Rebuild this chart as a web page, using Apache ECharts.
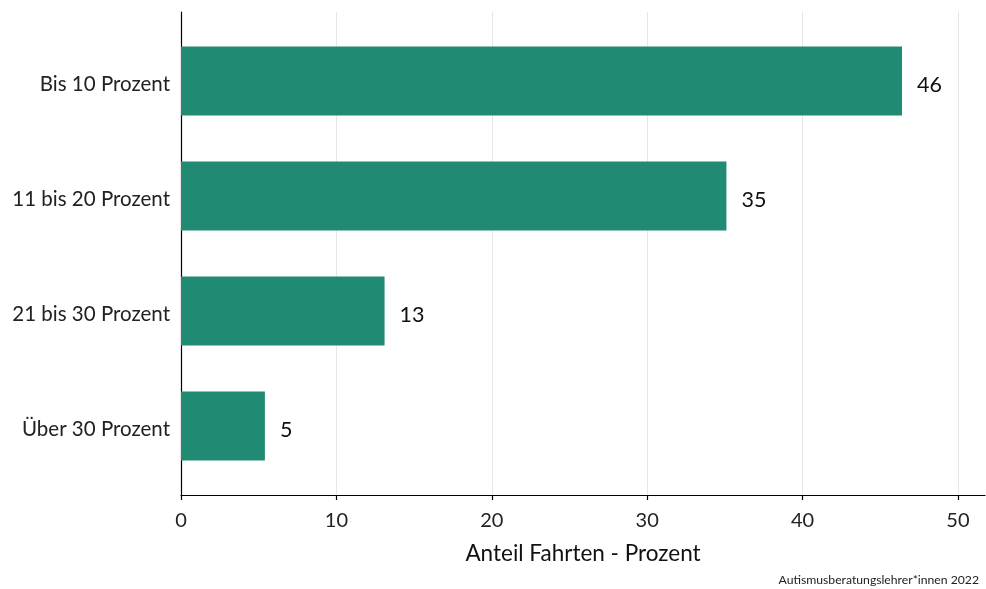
<!DOCTYPE html>
<html><head><meta charset="utf-8">
<script src="https://cdn.jsdelivr.net/npm/echarts@6/dist/echarts.min.js"></script>
<style>html,body{margin:0;padding:0;background:#fff}#c{width:986px;height:589px}</style>
</head><body><div id="c"></div>
<script>
const categories = ['Bis 10 Prozent', '11 bis 20 Prozent', '21 bis 30 Prozent', 'Über 30 Prozent'];
const values = [46.4, 35.1, 13.1, 5.4];
const valueLabels = ['46', '35', '13', '5'];
const xTicks = [0, 10, 20, 30, 40, 50];

const FONT = 'Lato';
const chart = echarts.init(document.getElementById('c'), null, {renderer: 'canvas'});
const data = values.map((v, i) => [v, i, valueLabels[i]]);
chart.setOption({
  backgroundColor: '#fff',
  animation: false,
  grid: {left: 181, right: 1, top: 12, bottom: 94, containLabel: false},
  xAxis: {
    type: 'value', min: 0, max: 51.74, interval: 10,
    axisLine: {show: true, onZero: false, lineStyle: {color: '#000', width: 1.2}},
    axisTick: {show: true, length: 5, lineStyle: {color: '#000', width: 1.2}, customValues: xTicks},
    axisLabel: {fontFamily: FONT, fontSize: 20, color: '#222', margin: 16, customValues: xTicks},
    splitLine: {show: true, lineStyle: {color: '#e6e6e6', width: 1}},
    name: 'Anteil Fahrten - Prozent', nameLocation: 'middle', nameGap: 47,
    nameTextStyle: {fontFamily: FONT, fontSize: 22.5, color: '#111'}
  },
  yAxis: {
    type: 'value', inverse: true, min: -0.6, max: 3.6,
    axisLine: {show: true, onZero: false, lineStyle: {color: '#000', width: 1.2}},
    axisTick: {show: false},
    splitLine: {show: false},
    axisLabel: {
      fontFamily: FONT, fontSize: 20.5, color: '#222', margin: 11,
      customValues: [0, 1, 2, 3],
      formatter: v => '{a|' + categories[Math.round(v)] + '}',
      rich: {a: {fontFamily: FONT, fontSize: 20.5, color: '#222', padding: [6, 0, 0, 0]}}
    }
  },
  graphic: [{
    type: 'text', right: 7, bottom: 3,
    style: {text: 'Autismusberatungslehrer*innen 2022', fontFamily: FONT, fontSize: 12.2, fill: '#222'}
  }],
  series: [{
    type: 'custom',
    data: data,
    encode: {x: 0, y: 1},
    renderItem: function (params, api) {
      const v = api.value(0), idx = api.value(1);
      const p0 = api.coord([0, idx]);
      const p1 = api.coord([v, idx]);
      const h = api.size([0, 1])[1] * 0.6;
      const lbl = valueLabels[params.dataIndex];
      return {
        type: 'group',
        children: [{
          type: 'rect',
          shape: {x: p0[0], y: p1[1] - h / 2, width: p1[0] - p0[0], height: h},
          style: {fill: '#208a72'}
        }, {
          type: 'text',
          x: p1[0] + 15, y: p1[1] + 4,
          style: {text: lbl, fontFamily: FONT, fontSize: 21.5, fill: '#111',
                  verticalAlign: 'middle', align: 'left', backgroundColor: '#fff', padding: [2, 0]}
        }]
      };
    }
  }]
});
</script></body></html>
